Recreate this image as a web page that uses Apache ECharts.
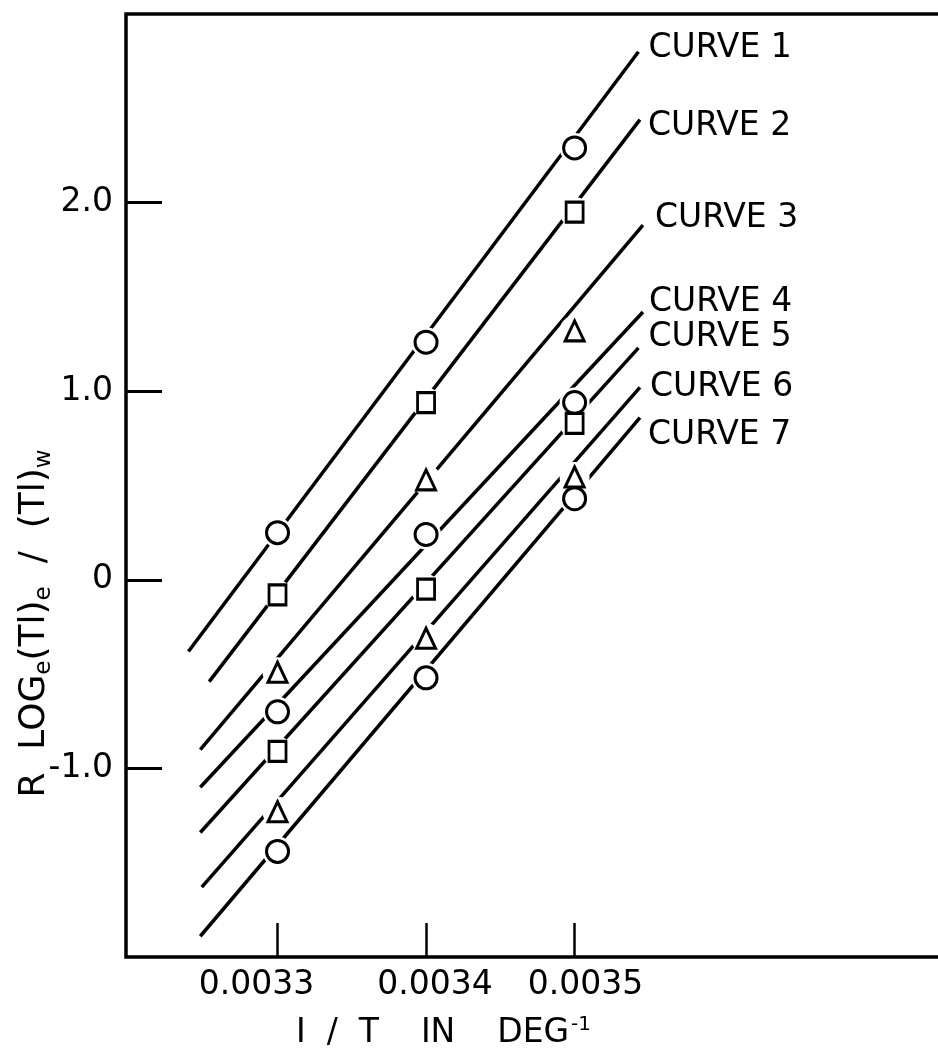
<!DOCTYPE html>
<html>
<head>
  <meta charset="UTF-8">
  <title>R log (Tl)e / (Tl)w vs 1/T</title>
  <script src="https://cdn.jsdelivr.net/npm/echarts@6/dist/echarts.min.js"></script>
  <style>
    html, body { margin: 0; padding: 0; background: #fff; }
    #main { width: 938px; height: 1051px; }
  </style>
</head>
<body>
  <div id="main"></div>
  <script type="text/javascript">
    var measuredX = [0.0033, 0.0034, 0.0035];
    var curve1Y = [0.25, 1.26, 2.29];
    var curve2Y = [-0.08, 0.94, 1.95];
    var curve3Y = [-0.49, 0.53, 1.32];
    var curve4Y = [-0.70, 0.24, 0.94];
    var curve5Y = [-0.91, -0.05, 0.83];
    var curve6Y = [-1.23, -0.31, 0.545];
    var curve7Y = [-1.44, -0.52, 0.43];

    // drawn straight lines (start / end of each)
    var lineStartX = [0.003240, 0.003254, 0.003248, 0.003248, 0.003248, 0.003249, 0.003248];
    var lineStartY = [-0.38, -0.54, -0.90, -1.10, -1.34, -1.63, -1.89];
    var lineEndX = [0.003543, 0.003544, 0.003546, 0.003546, 0.003543, 0.003544, 0.003544];
    var lineEndY = [2.80, 2.44, 1.88, 1.42, 1.23, 1.02, 0.86];

    var curveNames = ['CURVE 1', 'CURVE 2', 'CURVE 3', 'CURVE 4', 'CURVE 5', 'CURVE 6', 'CURVE 7'];
    var xTickValues = [0.0033, 0.0034, 0.0035];
    var yTickValues = [-1, 0, 1, 2];

    var curveY = [curve1Y, curve2Y, curve3Y, curve4Y, curve5Y, curve6Y, curve7Y];

    // styling
    var FONT = 'DejaVu Sans';
    var markerShapes = ['circle', 'rect', 'triangle', 'circle', 'rect', 'triangle', 'circle'];
    var markerSizes = { circle: 22, rect: [17, 20], triangle: [19, 20] };
    var labelShift = [[2, -3], [0, 7], [4, -7], [-2, -10], [2, -10], [2, 0], [0, 18]];

    var myChart = echarts.init(document.getElementById('main'));

    var series = [];

    // lines first
    curveNames.forEach(function (name, i) {
      series.push({
        name: name,
        type: 'line',
        z: 2,
        showSymbol: false,
        silent: true,
        lineStyle: { color: '#000', width: 3.5 },
        data: [[lineStartX[i], lineStartY[i]], [lineEndX[i], lineEndY[i]]],
        endLabel: {
          show: true,
          formatter: '{a}',
          color: '#000',
          fontFamily: FONT,
          fontSize: 33,
          distance: 8,
          offset: labelShift[i]
        }
      });
    });

    // white halos make the gaps in the lines around each marker
    curveNames.forEach(function (name, i) {
      series.push({
        type: 'scatter',
        z: 3,
        silent: true,
        symbol: 'circle',
        symbolSize: 30,
        itemStyle: { color: '#fff', opacity: 1 },
        data: measuredX.map(function (x, j) { return [x, curveY[i][j]]; })
      });
    });

    // hollow markers
    curveNames.forEach(function (name, i) {
      series.push({
        type: 'scatter',
        z: 4,
        silent: true,
        symbol: markerShapes[i],
        symbolSize: markerSizes[markerShapes[i]],
        itemStyle: { color: '#fff', borderColor: '#000', borderWidth: 3, opacity: 1 },
        data: measuredX.map(function (x, j) { return [x, curveY[i][j]]; })
      });
    });

    var option = {
      animation: false,
      backgroundColor: '#fff',
      grid: {
        left: 126,
        top: 14,
        right: -5,
        bottom: 94,
        outerBoundsMode: 'none',
        containLabel: false,
        show: true,
        borderColor: '#000',
        borderWidth: 3.5,
        backgroundColor: 'transparent'
      },
      xAxis: {
        type: 'value',
        min: 0.003198,
        max: 0.003748,
        splitLine: { show: false },
        axisLine: { show: false, onZero: false },
        axisTick: {
          show: true,
          inside: true,
          length: 34,
          customValues: xTickValues,
          lineStyle: { color: '#000', width: 2.5 }
        },
        axisLabel: {
          customValues: xTickValues,
          margin: 12,
          color: '#000',
          fontFamily: FONT,
          fontSize: 33,
          formatter: function (v) {
            var k = Math.round(v * 10000) - 33;
            return '{l' + k + '|' + v.toFixed(4) + '}';
          },
          rich: {
            l0: { fontFamily: FONT, fontSize: 33, color: '#000', padding: [0, 42, 0, 0] },
            l1: { fontFamily: FONT, fontSize: 33, color: '#000', padding: [0, 0, 0, 18] },
            l2: { fontFamily: FONT, fontSize: 33, color: '#000', padding: [0, 0, 0, 22] }
          }
        },
        name: '{m|I  /  T    IN    DEG}{sup|-1}',
        nameLocation: 'middle',
        nameGap: 58,
        nameMoveOverlap: false,
        nameTextStyle: {
          padding: [0, 182, 0, 0],
          rich: {
            m: { fontFamily: FONT, fontSize: 33, color: '#000', lineHeight: 36 },
            sup: { fontFamily: FONT, fontSize: 20, color: '#000', lineHeight: 36, verticalAlign: 'top', padding: [0, 0, 8, 2] }
          }
        }
      },
      yAxis: {
        type: 'value',
        min: -2,
        max: 3,
        interval: 1,
        splitLine: { show: false },
        axisLine: { show: false, onZero: false },
        axisTick: {
          show: true,
          inside: true,
          length: 36,
          customValues: yTickValues,
          lineStyle: { color: '#000', width: 3 }
        },
        axisLabel: {
          customValues: yTickValues,
          margin: 13,
          color: '#000',
          fontFamily: FONT,
          fontSize: 33,
          formatter: function (v) {
            return v === 0 ? '0' : v.toFixed(1);
          }
        },
        name: '{m|R  LOG}{sub|e}{m|(Tl)}{sub|e}{m|  /  (Tl)}{sub|w}',
        nameLocation: 'middle',
        nameGap: 70,
        nameMoveOverlap: false,
        nameRotate: 90,
        nameTextStyle: {
          padding: [0, 276, 0, 0],
          rich: {
            m: { fontFamily: FONT, fontSize: 36, color: '#000', lineHeight: 42 },
            sub: { fontFamily: FONT, fontSize: 23, color: '#000', lineHeight: 42, verticalAlign: 'bottom' }
          }
        }
      },
      series: series
    };

    myChart.setOption(option);
  </script>
</body>
</html>
